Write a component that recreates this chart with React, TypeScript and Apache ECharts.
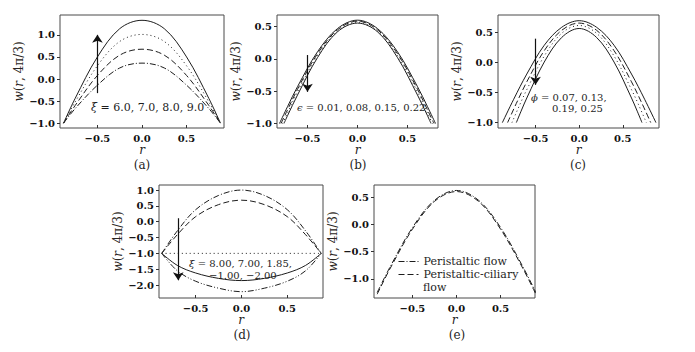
import React, { useEffect, useRef } from "react";
import * as echarts from "echarts";

// ---------- data ----------
// (a) xi = 6.0, 7.0, 8.0, 9.0
const rA = [-0.88, -0.75, -0.5, -0.25, 0, 0.25, 0.5, 0.75, 0.88];
const wA_xi9 = [-1, -0.44, 0.5, 1.14, 1.33, 1.14, 0.5, -0.44, -1];
const wA_xi8 = [-1, -0.52, 0.3, 0.85, 1.01, 0.85, 0.3, -0.52, -1];
const wA_xi7 = [-1, -0.6, 0.08, 0.54, 0.675, 0.54, 0.08, -0.6, -1];
const wA_xi6 = [-1, -0.67, -0.14, 0.25, 0.36, 0.25, -0.14, -0.67, -1];

// (b) epsilon = 0.01, 0.08, 0.15, 0.22
const rB1 = [-0.78, -0.7, -0.6, -0.4, -0.2, 0, 0.2, 0.4, 0.6, 0.7, 0.78];
const wB1 = [-1, -0.74, -0.43, 0.11, 0.47, 0.6, 0.47, 0.11, -0.43, -0.74, -1];
const rB2 = [-0.765, -0.7, -0.6, -0.4, -0.2, 0, 0.2, 0.4, 0.6, 0.7, 0.765];
const wB2 = [-1, -0.79, -0.47, 0.08, 0.45, 0.585, 0.45, 0.08, -0.47, -0.79, -1];
const rB3 = [-0.75, -0.7, -0.6, -0.4, -0.2, 0, 0.2, 0.4, 0.6, 0.7, 0.75];
const wB3 = [-1, -0.84, -0.51, 0.05, 0.43, 0.57, 0.43, 0.05, -0.51, -0.84, -1];
const rB4 = [-0.735, -0.7, -0.6, -0.4, -0.2, 0, 0.2, 0.4, 0.6, 0.7, 0.735];
const wB4 = [-1, -0.88, -0.56, 0.02, 0.42, 0.555, 0.42, 0.02, -0.56, -0.88, -1];

// (c) phi = 0.07, 0.13, 0.19, 0.25
const rC1 = [-0.88, -0.75, -0.6, -0.4, -0.2, 0, 0.2, 0.4, 0.6, 0.75, 0.88];
const wC1 = [-1, -0.61, -0.19, 0.29, 0.59, 0.7, 0.59, 0.29, -0.19, -0.61, -1];
const rC2 = [-0.82, -0.72, -0.6, -0.4, -0.2, 0, 0.2, 0.4, 0.6, 0.72, 0.82];
const wC2 = [-1, -0.68, -0.32, 0.2, 0.54, 0.66, 0.54, 0.2, -0.32, -0.68, -1];
const rC3 = [-0.77, -0.68, -0.6, -0.4, -0.2, 0, 0.2, 0.4, 0.6, 0.68, 0.77];
const wC3 = [-1, -0.7, -0.45, 0.11, 0.49, 0.62, 0.49, 0.11, -0.45, -0.7, -1];
const rC4 = [-0.72, -0.66, -0.6, -0.4, -0.2, 0, 0.2, 0.4, 0.6, 0.66, 0.72];
const wC4 = [-1, -0.79, -0.59, 0.01, 0.42, 0.57, 0.42, 0.01, -0.59, -0.79, -1];

// (d) xi = 8.00, 7.00, 1.85, -1.00, -2.00
const rD = [-0.87, -0.7, -0.5, -0.25, 0, 0.25, 0.5, 0.7, 0.87];
const wD_xi800 = [-1, -0.29, 0.38, 0.83, 1.0, 0.83, 0.38, -0.29, -1];
const wD_xi700 = [-1, -0.41, 0.16, 0.54, 0.68, 0.54, 0.16, -0.41, -1];
const wD_xi185 = [-1, -1, -1, -1, -1, -1, -1, -1, -1];
const wD_xim100 = [-1, -1.38, -1.62, -1.79, -1.86, -1.79, -1.62, -1.38, -1];
const wD_xim200 = [-1, -1.55, -1.88, -2.1, -2.21, -2.1, -1.88, -1.55, -1];

// (e) peristaltic vs peristaltic-ciliary
const rE = [-0.9, -0.75, -0.5, -0.25, 0, 0.25, 0.5, 0.75, 0.9];
const wE_peri = [-1.25, -0.77, -0.06, 0.44, 0.62, 0.44, -0.06, -0.77, -1.25];
const wE_cil = [-1.28, -0.8, -0.09, 0.42, 0.6, 0.42, -0.09, -0.8, -1.28];

const xTicks = [-0.5, 0, 0.5];
const yTicksA = [-1, -0.5, 0, 0.5, 1];
const yTicksBCE = [-1, -0.5, 0, 0.5];
const yTicksD = [-2, -1.5, -1, -0.5, 0, 0.5, 1];

const legendNames = ["Peristaltic flow", "Peristaltic-ciliary flow"];

// ---------- styles ----------
const FONT = "DejaVu Serif";
const INK = "#1d1d1d";
const SOLID = "solid";
const DOTTED = [1, 3];
const DASHED = [6, 3];
const DASHDOT = [6, 2, 1, 2];
const DASHDOTDOT = [6, 2, 1, 2, 1, 2];

const fmt = (v: number) => {
  const s = Math.abs(v).toFixed(1);
  return v < -1e-9 ? "\u2212" + s : s;
};

const grids = [
  { left: 60, top: 15, width: 164, height: 113 },
  { left: 277, top: 15, width: 161, height: 113 },
  { left: 498, top: 15, width: 161, height: 113 },
  { left: 159, top: 185, width: 164, height: 113 },
  { left: 374, top: 185, width: 161, height: 113 },
];
const xRanges = [
  [-0.92, 0.92],
  [-0.805, 0.805],
  [-0.93, 0.915],
  [-0.9, 0.89],
  [-0.936, 0.89],
];
const yRanges = [
  [-1.11, 1.45],
  [-1.07, 0.68],
  [-1.09, 0.795],
  [-2.41, 1.16],
  [-1.35, 0.72],
];
const yTickSets = [yTicksA, yTicksBCE, yTicksBCE, yTicksD, yTicksBCE];
const yNameGaps = [25, 30, 34, 29, 28];

function mkSeries(
  name: string,
  idx: number,
  r: number[],
  w: number[],
  type: any,
  arrow?: number[][]
) {
  const s: any = {
    type: "line",
    name,
    xAxisIndex: idx,
    yAxisIndex: idx,
    data: r.map((x, i) => [x, w[i]]),
    symbol: "none",
    showSymbol: false,
    smooth: 0.35,
    silent: true,
    lineStyle: { type, width: 1, color: INK },
    itemStyle: { color: INK },
  };
  if (arrow) {
    s.markLine = {
      silent: true,
      symbol: ["none", "arrow"],
      symbolSize: 8,
      label: { show: false },
      lineStyle: { type: "solid", width: 1.2, color: "#111" },
      emphasis: { disabled: true },
      data: [[{ coord: arrow[0] }, { coord: arrow[1] }]],
    };
  }
  return s;
}

function txt(text: string, x: number, y: number, size: number, align = "left", rich?: any) {
  return {
    type: "text",
    x,
    y,
    silent: true,
    style: {
      text,
      fontFamily: FONT,
      fontSize: size,
      fill: "#1d1d1d",
      align,
      textAlign: align,
      verticalAlign: "middle",
      textVerticalAlign: "middle",
      rich,
    },
  };
}

const italicRich = (size: number) => ({ i: { fontStyle: "italic", fontFamily: FONT, fontSize: size, fill: "#1d1d1d" } });

export default function App() {
  const ref = useRef<HTMLDivElement>(null);
  useEffect(() => {
    if (!ref.current) return;
    const chart = echarts.init(ref.current, undefined, { renderer: "svg" });

    const xAxis = grids.map((_, i) => ({
      type: "value",
      gridIndex: i,
      min: xRanges[i][0],
      max: xRanges[i][1],
      axisLine: { show: false, onZero: false },
      splitLine: { show: false },
      axisTick: { show: true, inside: true, length: 3, customValues: xTicks, lineStyle: { color: "#333" } },
      axisLabel: {
        customValues: xTicks,
        formatter: fmt,
        fontFamily: FONT,
        fontWeight: "bold",
        fontSize: 10,
        color: "#111",
        margin: 5,
      },
      name: "r",
      nameLocation: "middle",
      nameGap: 15,
      nameTextStyle: { fontStyle: "italic", fontFamily: FONT, fontSize: 12, color: "#222" },
    }));

    const yAxis = grids.map((_, i) => ({
      type: "value",
      gridIndex: i,
      min: yRanges[i][0],
      max: yRanges[i][1],
      axisLine: { show: false, onZero: false },
      splitLine: { show: false },
      axisTick: { show: true, inside: false, length: 3, customValues: yTickSets[i], lineStyle: { color: "#333" } },
      axisLabel: {
        customValues: yTickSets[i],
        formatter: fmt,
        fontFamily: FONT,
        fontWeight: "bold",
        fontSize: 10,
        color: "#111",
        margin: 5,
      },
      name: "{i|w}({i|r}, 4π/3)",
      nameLocation: "middle",
      nameGap: yNameGaps[i],
      nameTextStyle: {
        fontFamily: FONT,
        fontSize: 12,
        color: "#2a2522",
        rich: { i: { fontStyle: "italic", fontFamily: FONT, fontSize: 12, color: "#2a2522" } },
      },
    }));

    const series = [
      mkSeries("ξ = 9.0", 0, rA, wA_xi9, SOLID, [[-0.5, -0.32], [-0.5, 1.0]]),
      mkSeries("ξ = 8.0", 0, rA, wA_xi8, DOTTED),
      mkSeries("ξ = 7.0", 0, rA, wA_xi7, DASHED),
      mkSeries("ξ = 6.0", 0, rA, wA_xi6, DASHDOT),

      mkSeries("ϵ = 0.01", 1, rB1, wB1, SOLID, [[-0.5, 0.06], [-0.5, -0.51]]),
      mkSeries("ϵ = 0.08", 1, rB2, wB2, DASHED),
      mkSeries("ϵ = 0.15", 1, rB3, wB3, DOTTED),
      mkSeries("ϵ = 0.22", 1, rB4, wB4, SOLID),

      mkSeries("ϕ = 0.07", 2, rC1, wC1, SOLID, [[-0.5, 0.4], [-0.5, -0.37]]),
      mkSeries("ϕ = 0.13", 2, rC2, wC2, DASHED),
      mkSeries("ϕ = 0.19", 2, rC3, wC3, DOTTED),
      mkSeries("ϕ = 0.25", 2, rC4, wC4, SOLID),

      mkSeries("ξ = 8.00", 3, rD, wD_xi800, DASHDOT, [[-0.69, 0.11], [-0.69, -1.85]]),
      mkSeries("ξ = 7.00", 3, rD, wD_xi700, DASHED),
      mkSeries("ξ = 1.85", 3, rD, wD_xi185, DOTTED),
      mkSeries("ξ = −1.00", 3, rD, wD_xim100, SOLID),
      mkSeries("ξ = −2.00", 3, rD, wD_xim200, DASHDOTDOT),

      mkSeries(legendNames[0], 4, rE, wE_peri, DASHDOT),
      mkSeries(legendNames[1], 4, rE, wE_cil, DASHED),
    ];

    const graphic = [
      txt("(a)", 142, 165, 12, "center"),
      txt("(b)", 358, 165, 12, "center"),
      txt("(c)", 578, 165, 12, "center"),
      txt("(d)", 242, 335, 12, "center"),
      txt("(e)", 457, 335, 12, "center"),
      txt("{i|ξ} = 6.0, 7.0, 8.0, 9.0", 91, 107, 11, "left", italicRich(11)),
      txt("{i|ϵ} = 0.01, 0.08, 0.15, 0.22", 297, 107, 10, "left", italicRich(10)),
      txt("{i|ϕ} = 0.07, 0.13,", 531, 97, 10, "left", italicRich(10)),
      txt("0.19, 0.25", 552, 108, 10, "left"),
      txt("{i|ξ} = 8.00, 7.00, 1.85,", 189, 263, 10, "left", italicRich(10)),
      txt("\u22121.00, \u22122.00", 209, 275, 10, "left"),
      txt("flow", 423, 287, 11, "left"),
    ];

    chart.setOption({
      animation: false,
      backgroundColor: "#ffffff",
      grid: grids.map((g) => ({ ...g, show: true, borderColor: "#4a4a4a", borderWidth: 1, backgroundColor: "transparent" })),
      xAxis,
      yAxis,
      series,
      legend: {
        data: legendNames,
        orient: "vertical",
        left: 398,
        top: 255,
        padding: 0,
        itemGap: 0,
        itemWidth: 20,
        itemHeight: 8,
        selectedMode: false,
        itemStyle: { opacity: 0 },
        lineStyle: { width: 1 },
        formatter: (n: string) => (n === legendNames[1] ? "Peristaltic-ciliary" : n),
        textStyle: { fontFamily: FONT, fontSize: 11, color: "#1d1d1d", lineHeight: 13 },
      },
      graphic,
    });
    return () => chart.dispose();
  }, []);

  return (
    <div
      ref={ref}
      style={{ position: "fixed", left: 0, top: 0, width: 695, height: 352, background: "#fff" }}
    />
  );
}
